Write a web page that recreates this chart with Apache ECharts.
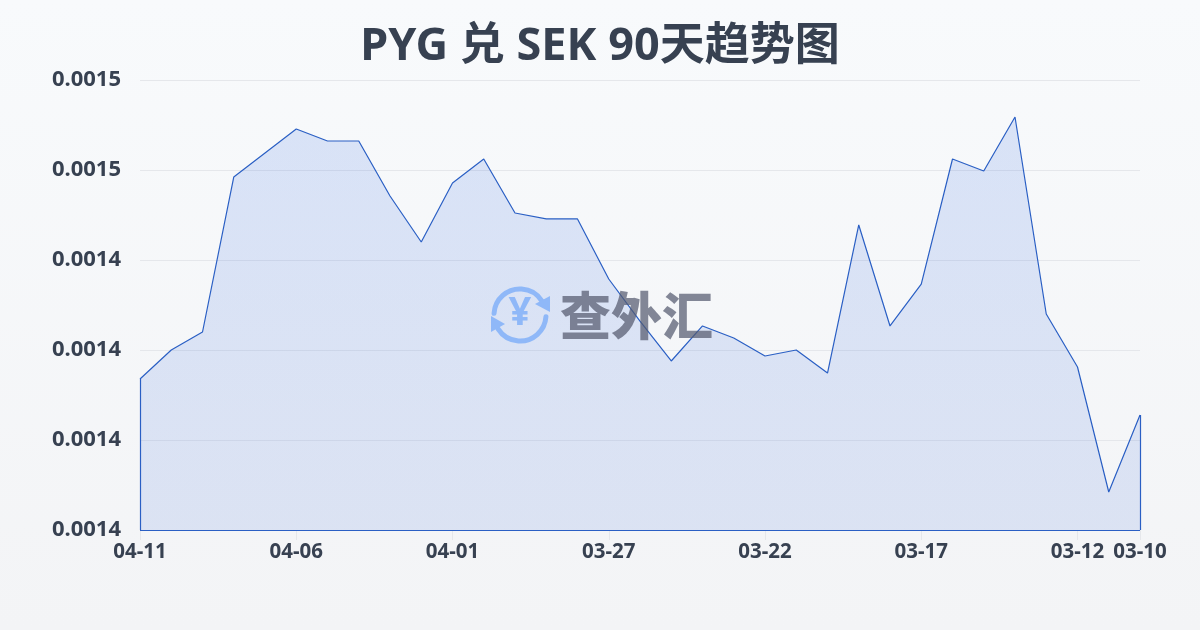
<!DOCTYPE html>
<html>
<head>
<meta charset="utf-8">
<style>html,body{margin:0;padding:0;width:1200px;height:630px;overflow:hidden}#c{width:1200px;height:630px}</style>
<script src="https://cdn.jsdelivr.net/npm/echarts@6/dist/echarts.min.js"></script>
</head>
<body>
<div id="c"></div>
<script>
const titleText = 'PYG 兑 SEK 90天趋势图';
const categories = ['04-11','04-10','04-09','04-08','04-07','04-06','04-05','04-04','04-03','04-02','04-01','03-31','03-30','03-29','03-28','03-27','03-26','03-25','03-24','03-23','03-22','03-21','03-20','03-19','03-18','03-17','03-16','03-15','03-14','03-13','03-12','03-11','03-10'];
const rates = [0.00143678,0.00144000,0.00144200,0.00145922,0.00146189,0.00146456,0.00146322,0.00146322,0.00145711,0.00145200,0.00145856,0.00146122,0.00145522,0.00145456,0.00145456,0.00144789,0.00144322,0.00143878,0.00144267,0.00144133,0.00143933,0.00144000,0.00143744,0.00145389,0.00144267,0.00144733,0.00146122,0.00145989,0.00146589,0.00144400,0.00143811,0.00142422,0.00143278];
const yTickLabels = ['0.0014','0.0014','0.0014','0.0014','0.0015','0.0015'];
const yMin = 0.00142, yMax = 0.00147, yStep = 0.00001;
const textColor = '#374151', lineColor = '#2a5fc4';
const font = '"Noto Sans","Noto Sans CJK SC",sans-serif';
const last = categories.length - 1;
const showTick = i => i % 5 === 0 || i === last;
const edge = {lineStyle:{color:lineColor,width:1.2,type:'solid'}};
const iconColor = '#8fb8f8';

const chart = echarts.init(document.getElementById('c'));
chart.setOption({
  animation:false,
  backgroundColor:{type:'linear',x:0,y:0,x2:0,y2:1,colorStops:[{offset:0,color:'#f8fafc'},{offset:1,color:'#f3f4f6'}]},
  title:{text:titleText,left:'center',top:20,textStyle:{fontFamily:font,fontSize:45,fontWeight:'bold',color:textColor}},
  grid:{left:140,right:60,top:80,bottom:100},
  graphic:[
    {type:'arc',z:10,silent:true,shape:{cx:520,cy:315,r:26,startAngle:Math.PI*1.02,endAngle:Math.PI*1.82,clockwise:true},style:{stroke:iconColor,lineWidth:5,fill:null,lineCap:'round'}},
    {type:'arc',z:10,silent:true,shape:{cx:520,cy:315,r:26,startAngle:Math.PI*0.02,endAngle:Math.PI*0.82,clockwise:true},style:{stroke:iconColor,lineWidth:5,fill:null,lineCap:'round'}},
    {type:'polygon',z:10,silent:true,shape:{points:[[550,296],[550,312],[535,304]]},style:{fill:iconColor}},
    {type:'polygon',z:10,silent:true,shape:{points:[[491,316],[491,332],[505,324]]},style:{fill:iconColor}},
    {type:'text',z:10,silent:true,style:{text:'¥',x:520,y:314,align:'center',verticalAlign:'middle',fontFamily:font,fontSize:40,fontWeight:'bold',fill:iconColor}},
    {type:'text',z:10,silent:true,style:{text:'查外汇',x:560,y:316,align:'left',verticalAlign:'middle',fontFamily:'"Noto Sans CJK SC",sans-serif',fontSize:51,fontWeight:900,fill:'rgba(84,90,111,0.72)'}}
  ],
  xAxis:{type:'category',data:categories,boundaryGap:false,
    axisLine:{show:false},
    axisTick:{show:true,length:10,interval:showTick,lineStyle:{color:'#e5e7eb',width:1}},
    axisLabel:{interval:showTick,hideOverlap:false,margin:12,color:textColor,fontFamily:font,fontSize:20.5,fontWeight:'bold'},
    splitLine:{show:false}},
  yAxis:{type:'value',min:yMin,max:yMax,interval:yStep,
    axisLine:{show:false},axisTick:{show:false},
    axisLabel:{margin:19,padding:[0,0,4,0],color:textColor,fontFamily:font,fontSize:22,fontWeight:'bold',formatter:(v,i)=>yTickLabels[i]},
    splitLine:{show:true,lineStyle:{color:'#e5e7eb',width:1}}},
  series:[{type:'line',data:rates,symbol:'none',smooth:false,z:3,
    lineStyle:{color:lineColor,width:1.2},
    areaStyle:{color:{type:'linear',x:0,y:0,x2:0,y2:1,colorStops:[{offset:0,color:'rgba(50,105,225,0.22)'},{offset:1,color:'rgba(50,100,215,0.18)'}]}},
    markLine:{silent:true,symbol:'none',label:{show:false},animation:false,data:[
      [{coord:[categories[0],yMin],...edge},{coord:[categories[0],rates[0]]}],
      [{coord:[categories[0],yMin],...edge},{coord:[categories[last],yMin]}],
      [{coord:[categories[last],yMin],...edge},{coord:[categories[last],rates[last]]}]
    ]}
  }]
});
</script>
</body>
</html>
